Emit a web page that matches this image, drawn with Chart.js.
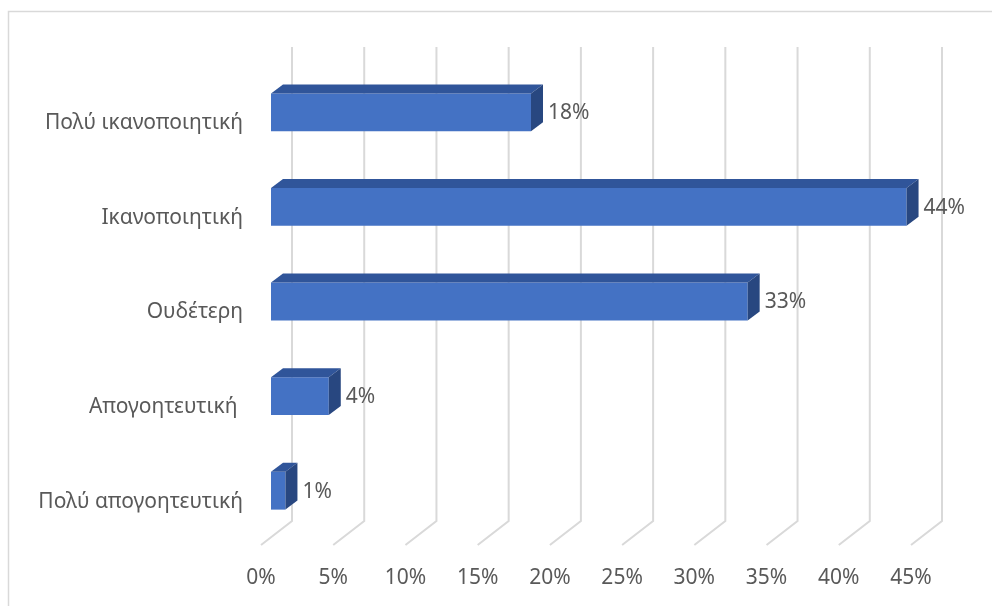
<!DOCTYPE html>
<html>
<head>
<meta charset="utf-8">
<script src="https://cdn.jsdelivr.net/npm/chart.js@4"></script>
<style>
  html, body { margin: 0; padding: 0; background: #fff; }
  canvas { display: block; }
</style>
</head>
<body>
<canvas id="chart" width="992" height="606"></canvas>
<script>
const categories = ['Πολύ ικανοποιητική', 'Ικανοποιητική', 'Ουδέτερη', 'Απογοητευτική ', 'Πολύ απογοητευτική'];
const percentValues = [18, 44, 33, 4, 1];
const tickMax = 45;
const tickStep = 5;

const FONT = '"Noto Sans", "DejaVu Sans", sans-serif';
const TEXT = '#595959';
const GRID = '#d9d9d9';
// depth of the fake 3D
const DX = 12, DY = -9;

const frame3d = {
  id: 'frame3d',
  beforeDraw(chart) {
    const ctx = chart.ctx;
    ctx.save();
    ctx.strokeStyle = GRID;
    ctx.lineWidth = 1.5;
    ctx.strokeRect(8.5, 11.5, 2000, 2000);
    ctx.restore();
  },
  beforeDatasetsDraw(chart) {
    const ctx = chart.ctx;
    const xs = chart.scales.x;
    const area = chart.chartArea;
    const top = area.top - 18, back = area.bottom - 17, front = area.bottom + 7;
    ctx.save();
    ctx.strokeStyle = GRID;
    ctx.lineWidth = 2;
    xs.ticks.forEach(t => {
      const px = xs.getPixelForValue(t.value);
      ctx.beginPath();
      ctx.moveTo(px + 21, top);
      ctx.lineTo(px + 21, back);
      ctx.lineTo(px - 10, front);
      ctx.stroke();
    });
    ctx.restore();
  },
  afterDatasetsDraw(chart) {
    const ctx = chart.ctx;
    const meta = chart.getDatasetMeta(0);
    ctx.save();
    meta.data.forEach((bar, i) => {
      const p = bar.getProps(['x', 'y', 'base', 'height'], true);
      const l = p.base, r = p.x, t = p.y - p.height / 2, b = p.y + p.height / 2;
      ctx.fillStyle = '#30559a';
      ctx.beginPath();
      ctx.moveTo(l, t); ctx.lineTo(l + DX, t + DY); ctx.lineTo(r + DX, t + DY); ctx.lineTo(r, t);
      ctx.closePath(); ctx.fill();
      ctx.fillStyle = '#284780';
      ctx.beginPath();
      ctx.moveTo(r, t); ctx.lineTo(r + DX, t + DY); ctx.lineTo(r + DX, b + DY); ctx.lineTo(r, b);
      ctx.closePath(); ctx.fill();

      ctx.fillStyle = TEXT;
      ctx.font = '21px ' + FONT;
      ctx.textAlign = 'left';
      ctx.textBaseline = 'middle';
      ctx.fillText(percentValues[i] + '%', r + 17, p.y + 1);
    });
    ctx.restore();
  }
};

new Chart(document.getElementById('chart'), {
  type: 'bar',
  data: {
    labels: categories,
    datasets: [{
      data: percentValues,
      backgroundColor: '#4472c4',
      borderWidth: 0,
      categoryPercentage: 1,
      barPercentage: 0.4
    }]
  },
  options: {
    indexAxis: 'y',
    responsive: false,
    animation: false,
    devicePixelRatio: 1,
    layout: { padding: { top: 65, right: 71, bottom: 0, left: 0 } },
    plugins: { legend: { display: false }, tooltip: { enabled: false } },
    scales: {
      x: {
        min: 0, max: tickMax,
        grid: { display: false, drawTicks: false },
        border: { display: false },
        afterFit(scale) { scale.height = 68; },
        ticks: {
          stepSize: tickStep,
          padding: 27,
          labelOffset: -10,
          color: TEXT,
          font: { family: FONT, size: 21 },
          callback: v => v + '%'
        }
      },
      y: {
        grid: { display: false, drawTicks: false },
        border: { display: false },
        afterFit(scale) { scale.width = 271; },
        ticks: {
          padding: 28,
          labelOffset: 11,
          color: TEXT,
          font: { family: FONT, size: 21 }
        }
      }
    }
  },
  plugins: [frame3d]
});
</script>
</body>
</html>
